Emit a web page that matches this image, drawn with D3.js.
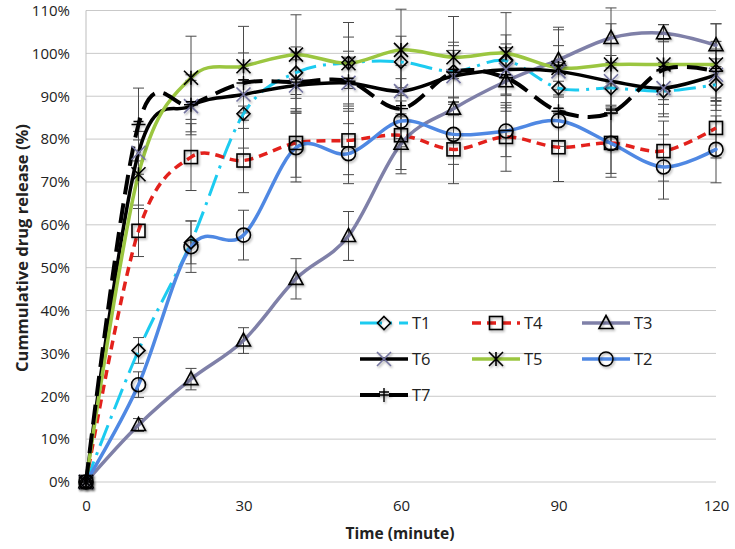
<!DOCTYPE html>
<html><head><meta charset="utf-8">
<script src="https://cdn.jsdelivr.net/npm/d3@7"></script>
<style>body{margin:0;background:#fff}svg{display:block}text{font-family:"Open Sans",sans-serif}</style>
</head><body><svg id="c" width="735" height="549"></svg>
<script>
const times = [0,10,20,30,40,50,60,70,80,90,100,110,120];
const xTicks = [0,30,60,90,120];
const yTicks = [0,10,20,30,40,50,60,70,80,90,100,110];
const T1 = [0,30.7,55.9,85.9,95.5,97.8,98.0,95.8,98.3,91.9,91.9,91.2,92.7];
const T4 = [0,58.6,75.8,75.0,79.1,79.7,80.9,77.6,80.5,78.1,79.1,77.2,82.6];
const T3 = [0,13.3,24.0,33.0,47.4,57.4,78.9,87.1,93.5,98.5,103.6,104.7,101.9];
const T6 = [0,76.8,87.7,90.4,92.5,93.1,91.2,94.7,96.2,95.8,93.5,91.9,95.0];
const T5 = [0,71.8,94.3,97.0,99.7,97.7,100.8,99.1,100.0,96.6,97.4,97.4,97.4];
const T2 = [0,22.7,54.9,57.6,78.0,76.6,84.2,81.1,81.9,84.3,79.0,73.5,77.6];
const T7 = [0,83.4,88.0,93.1,93.3,93.5,87.1,95.6,94.3,86.5,86.1,96.2,95.8];
const E1 = [0,3,5,8,6,6,6,6,6,6,6,6,6];
const E4 = [0,6,7.8,7.5,8,8,8,8,8,8,8,7,7];
const E3 = [0,1.5,2.5,3,4.7,5.7,7,7,7,7,7,2,5];
const E6 = [0,5,6,6,6,6,6,6,6,6,6,6,6];
const E5 = [0,8,9.7,9.3,9.3,9.5,9.5,9.5,9.5,9.5,9.5,9.3,9.5];
const E2 = [0,3,6,5.8,8,7,6,7,6,6,7,7.5,7.8];
const E7 = [0,8.5,7,7,7,7,7,7,7,7,7,7,7];
const names = ["T1","T4","T3","T6","T5","T2","T7"];

const series = [
 {name:"T1", v:T1, e:E1, color:"#1ccbf0", dash:"22,7,3,7", w:3, marker:"diamond", mcolor:"#000"},
 {name:"T4", v:T4, e:E4, color:"#e3211c", dash:"9,6", w:3.5, marker:"square", mcolor:"#000"},
 {name:"T3", v:T3, e:E3, color:"#7f80a8", dash:null, w:3.5, marker:"triangle", mcolor:"#000"},
 {name:"T6", v:T6, e:E6, color:"#000000", dash:null, w:3.5, marker:"x", mcolor:"#7474a0"},
 {name:"T5", v:T5, e:E5, color:"#9bc640", dash:null, w:3.5, marker:"asterisk", mcolor:"#000"},
 {name:"T2", v:T2, e:E2, color:"#4f88e3", dash:null, w:3.5, marker:"circle", mcolor:"#000"},
 {name:"T7", v:T7, e:E7, color:"#000000", dash:"20,9", w:4, marker:"plus", mcolor:"#000"}
];

const svg = d3.select("#c");
const x = d3.scaleLinear().domain([0,120]).range([86,716]);
const y = d3.scaleLinear().domain([0,110]).range([482,10.5]);

const defs = svg.append("defs");
const f = defs.append("filter").attr("id","sh").attr("x","-50%").attr("y","-50%").attr("width","200%").attr("height","200%");
f.append("feDropShadow").attr("dx",1.2).attr("dy",1.5).attr("stdDeviation",1).attr("flood-color","#000").attr("flood-opacity",0.35);

// grid
svg.append("g").selectAll("line").data(yTicks).join("line")
  .attr("x1",86).attr("x2",716).attr("y1",d=>y(d)).attr("y2",d=>y(d))
  .attr("stroke","#c9c9c9").attr("stroke-width",1);
svg.append("line").attr("x1",86).attr("x2",86).attr("y1",y(110)).attr("y2",y(0)).attr("stroke","#bdbdbd");

// axes labels
const yAxis = d3.axisLeft(y).tickValues(yTicks).tickFormat(d=>d+"%").tickSize(0).tickPadding(16);
const gy = svg.append("g").attr("transform","translate(86,0)").call(yAxis);
gy.select(".domain").remove();
gy.selectAll("text").attr("font-size",15).attr("fill","#222");
const xAxis = d3.axisBottom(x).tickValues(xTicks).tickSize(0).tickPadding(18);
const gx = svg.append("g").attr("transform","translate(0,482)").call(xAxis);
gx.select(".domain").remove();
gx.selectAll("text").attr("font-size",15).attr("fill","#222");

svg.append("text").attr("x",400).attr("y",539).attr("text-anchor","middle")
  .attr("font-size",15.5).attr("font-weight","bold").attr("fill","#222").text("Time (minute)");
svg.append("text").attr("transform","translate(28,248) rotate(-90)").attr("text-anchor","middle")
  .attr("font-size",16.5).attr("font-weight","bold").attr("fill","#222").text("Cummulative drug release (%)");

// error bars
const eg = svg.append("g").attr("stroke","#4a4a4a").attr("stroke-width",1);
series.forEach(s=>{
  times.forEach((t,i)=>{
    if(!s.e[i]) return;
    const cx = x(t), y1 = y(s.v[i]+s.e[i]), y2 = y(s.v[i]-s.e[i]);
    eg.append("line").attr("x1",cx).attr("x2",cx).attr("y1",y1).attr("y2",y2);
    eg.append("line").attr("x1",cx-5.5).attr("x2",cx+5.5).attr("y1",y1).attr("y2",y1);
    eg.append("line").attr("x1",cx-5.5).attr("x2",cx+5.5).attr("y1",y2).attr("y2",y2);
  });
});

const line = d3.line().x((d,i)=>x(times[i])).y(d=>y(d)).curve(d3.curveCatmullRom.alpha(0));

function drawMarker(g, type, color){
  g.attr("filter","url(#sh)");
  const st = {stroke:color, "stroke-width":1.6, fill:"none"};
  const add = (tag, attrs)=>{const e=g.append(tag); Object.entries(Object.assign({},st,attrs)).forEach(([k,v])=>e.attr(k,v)); return e;};
  if(type==="diamond") add("path",{d:"M0,-6.5L6.5,0L0,6.5L-6.5,0Z"});
  else if(type==="square") add("rect",{x:-6.5,y:-6.5,width:13,height:13});
  else if(type==="triangle") add("path",{d:"M0,-7.5L7,5.5L-7,5.5Z"});
  else if(type==="circle") add("circle",{r:7});
  else if(type==="x"){ add("path",{d:"M-7,-7L7,7M-7,7L7,-7"}); }
  else if(type==="asterisk"){ add("path",{d:"M-7,-7L7,7M-7,7L7,-7M0,-7L0,7"}); }
  else if(type==="plus"){ add("path",{d:"M-7,0L7,0M0,-7L0,7M-5,-3L5,-3", "stroke-width":1.4}); }
}

series.forEach(s=>{
  svg.append("path").datum(s.v).attr("d",line).attr("fill","none")
    .attr("stroke",s.color).attr("stroke-width",s.w)
    .attr("stroke-dasharray",s.dash).attr("stroke-linecap",s.dash?"butt":"round");
});
series.forEach(s=>{
  times.forEach((t,i)=>{
    const g = svg.append("g").attr("transform",`translate(${x(t)},${y(s.v[i])})`);
    drawMarker(g, s.marker, s.mcolor);
  });
});

// legend
const legPos = [[360,323],[472,323],[582,323],[360,359],[472,359],[582,359],[360,395]];
const order = ["T1","T4","T3","T6","T5","T2","T7"];
order.forEach((n,k)=>{
  const s = series.find(d=>d.name===n);
  const [lx,ly] = legPos[k];
  svg.append("line").attr("x1",lx).attr("x2",lx+48).attr("y1",ly).attr("y2",ly)
    .attr("stroke",s.color).attr("stroke-width",s.w).attr("stroke-dasharray",s.dash);
  const g = svg.append("g").attr("transform",`translate(${lx+24},${ly})`);
  drawMarker(g, s.marker, s.mcolor);
  svg.append("text").attr("x",lx+52).attr("y",ly+6).attr("font-size",16.5).attr("fill","#222").text(n);
});
</script></body></html>
